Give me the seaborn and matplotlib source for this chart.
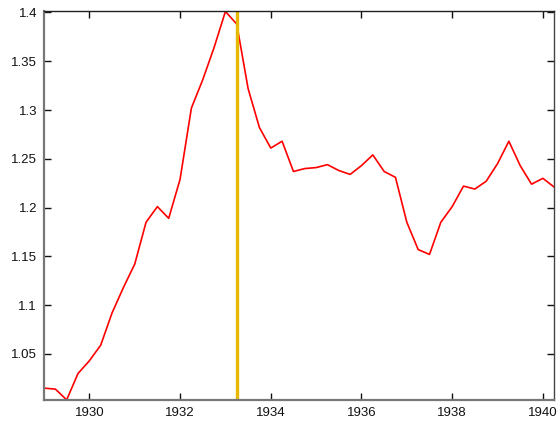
import matplotlib
matplotlib.use("Agg")
import matplotlib.pyplot as plt
import pandas as pd
import seaborn as sns

# quarterly values, 1929.0 .. 1940.25
years = [1929 + 0.25 * i for i in range(46)]
values = [1.015, 1.014, 1.003, 1.030, 1.043, 1.059, 1.092, 1.118, 1.142, 1.185,
          1.201, 1.189, 1.229, 1.302, 1.331, 1.364, 1.401, 1.388, 1.322, 1.282,
          1.261, 1.268, 1.237, 1.240, 1.241, 1.244, 1.238, 1.234, 1.243, 1.254,
          1.237, 1.231, 1.185, 1.157, 1.152, 1.185, 1.201, 1.222, 1.219, 1.227,
          1.245, 1.268, 1.243, 1.224, 1.230, 1.221]
marker_year = 1933.25

xticks = [1930, 1932, 1934, 1936, 1938, 1940]
yticks = [1.05, 1.1, 1.15, 1.2, 1.25, 1.3, 1.35, 1.4]
ytick_labels = ["1.05", "1.1", "1.15", "1.2", "1.25", "1.3", "1.35", "1.4"]

df = pd.DataFrame({"year": years, "value": values})

sns.set_style("white")
plt.rcParams["font.family"] = ["Liberation Sans", "DejaVu Sans"]

fig = plt.figure(figsize=(5.57, 4.24), dpi=100)
ax = fig.add_axes([0.079, 0.057, 0.916, 0.916])

sns.lineplot(data=df, x="year", y="value", color="#ff0000", linewidth=1.2, ax=ax)
ax.axvline(marker_year, color="#e6b800", linewidth=2.4)

ax.set_xlim(min(years), max(years))
ax.set_ylim(min(values), max(values))
ax.set_xticks(xticks)
ax.set_xticklabels([str(x) for x in xticks])
ax.set_yticks(yticks)
ax.set_yticklabels(ytick_labels)
ax.set_xlabel("")
ax.set_ylabel("")

ax.tick_params(direction="in", length=5, width=1, labelsize=9.5, colors="#111111",
               top=True, right=True, bottom=True, left=True, pad=5)

for side in ["left", "bottom"]:
    ax.spines[side].set_color("#777777")
    ax.spines[side].set_linewidth(1.6)
ax.spines["top"].set_color("#222222")
ax.spines["top"].set_linewidth(1.0)
ax.spines["right"].set_color("#444444")
ax.spines["right"].set_linewidth(1.0)

fig.savefig("out.png", dpi=100)
